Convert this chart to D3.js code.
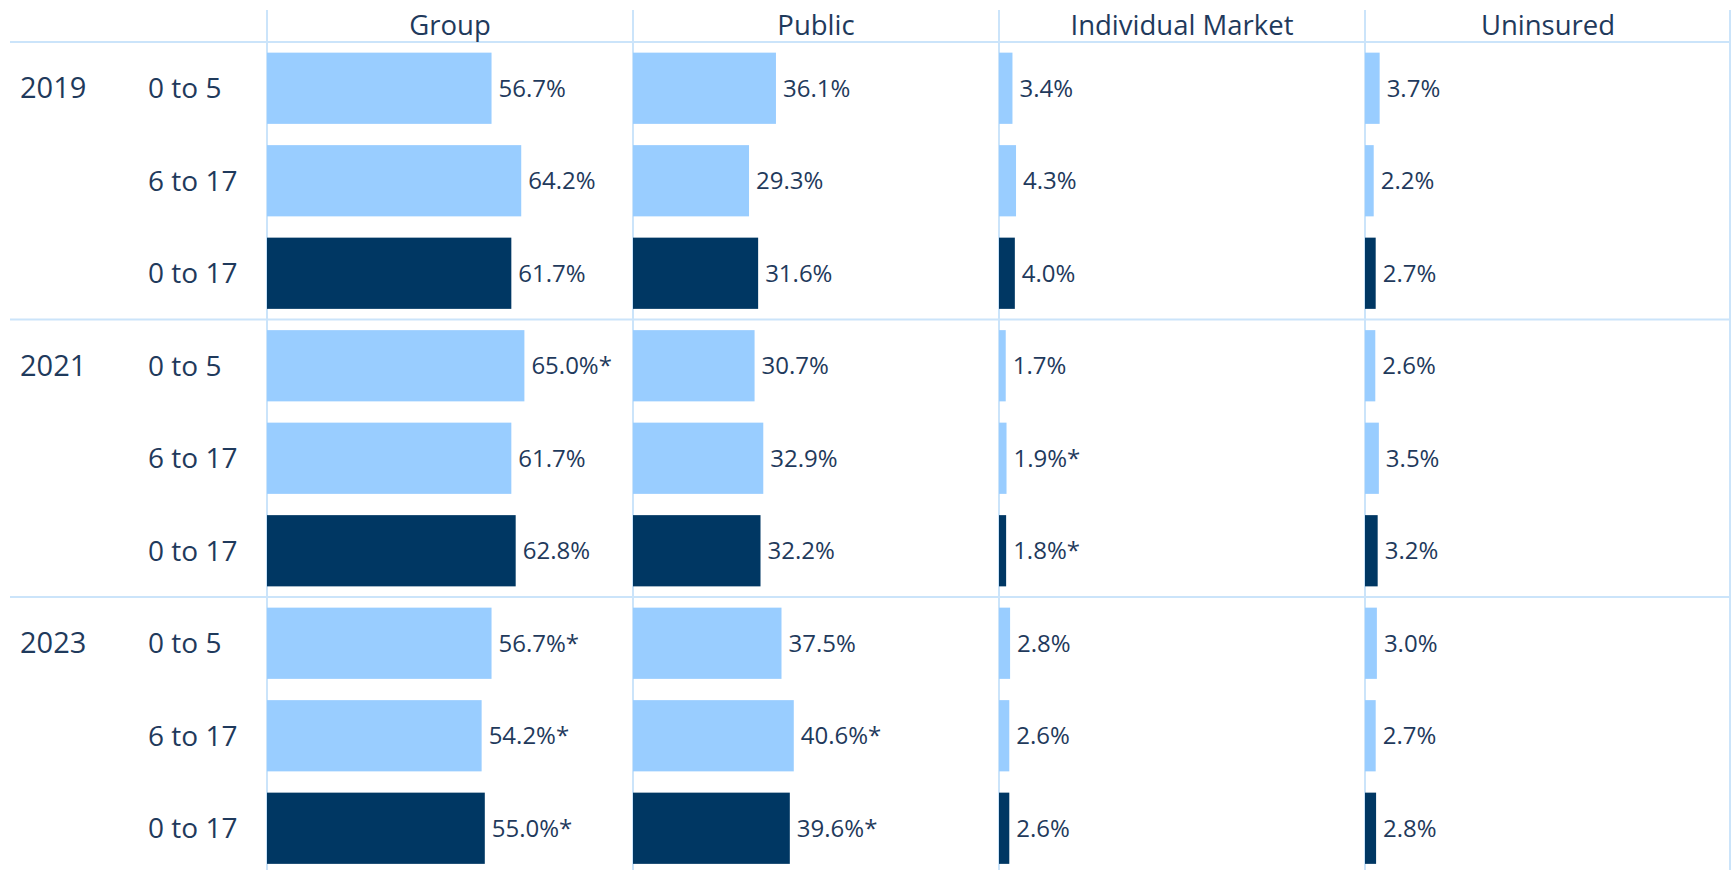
<!DOCTYPE html>
<html>
<head>
<meta charset="utf-8">
<script src="https://cdn.jsdelivr.net/npm/d3@7"></script>
<style>
    body { margin: 0; background: #ffffff; }
    svg { display: block; }
    text { font-family: "Open Sans", "Noto Sans", sans-serif; fill: #1f3a5c; }
</style>
</head>
<body>
<svg id="chart" width="1731" height="870"></svg>
<script>
// data
const years = ["2019", "2021", "2023"];
const ages = ["0 to 5", "6 to 17", "0 to 17"];
const coverage = ["Group", "Public", "Individual Market", "Uninsured"];

// one value per row: 2019 (0-5, 6-17, 0-17), 2021 (...), 2023 (...)
const groupVals = [56.7, 64.2, 61.7, 65.0, 61.7, 62.8, 56.7, 54.2, 55.0];
const publicVals = [36.1, 29.3, 31.6, 30.7, 32.9, 32.2, 37.5, 40.6, 39.6];
const individualVals = [3.4, 4.3, 4.0, 1.7, 1.9, 1.8, 2.8, 2.6, 2.6];
const uninsuredVals = [3.7, 2.2, 2.7, 2.6, 3.5, 3.2, 3.0, 2.7, 2.8];

// statistically significant change marked with *
const groupStars = [false, false, false, true, false, false, true, true, true];
const publicStars = [false, false, false, false, false, false, false, true, true];
const individualStars = [false, false, false, false, true, true, false, false, false];
const uninsuredStars = [false, false, false, false, false, false, false, false, false];

const seriesVals = [groupVals, publicVals, individualVals, uninsuredVals];
const seriesStars = [groupStars, publicStars, individualStars, uninsuredStars];

const LIGHT = "#99cdff";
const DARK = "#003763";
const GRID = "#cbe4fa";

const rows = [];
years.forEach((yr, yi) => {
    ages.forEach((age, ai) => {
        rows.push({key: yr + "|" + age, year: yr, age: age, yi: yi, ai: ai});
    });
});

const cells = [];
coverage.forEach((cov, ci) => {
    rows.forEach((r, ri) => {
        cells.push({cov: cov, row: r.key, total: r.ai == 2,
                    value: seriesVals[ci][ri], star: seriesStars[ci][ri]});
    });
});

const svg = d3.select("#chart");

const y = d3.scaleBand()
            .domain(rows.map((d) => d.key))
            .range([42, 874.5])
            .paddingInner(0.23)
            .paddingOuter(0.115);

const col = d3.scaleBand()
              .domain(coverage)
              .range([267, 1731]);

const x = d3.scaleLinear()
            .domain([0, 100])
            .range([0, 396]);

// grid lines
const grid = svg.append("g").attr("class", "grid");
grid.selectAll("line.v")
    .data(coverage)
    .join("line")
    .attr("class", "v")
    .attr("x1", (d) => col(d))
    .attr("x2", (d) => col(d))
    .attr("y1", 10)
    .attr("y2", 870)
    .style("stroke", GRID)
    .style("stroke-width", 2);
grid.append("line")
    .attr("x1", 1730).attr("x2", 1730)
    .attr("y1", 10).attr("y2", 870)
    .style("stroke", GRID)
    .style("stroke-width", 2);

const blockTops = years.map((yr) => y(yr + "|" + ages[0]) - y.step() * y.paddingOuter());
grid.selectAll("line.h")
    .data(blockTops)
    .join("line")
    .attr("class", "h")
    .attr("x1", 10)
    .attr("x2", 1731)
    .attr("y1", (d) => d)
    .attr("y2", (d) => d)
    .style("stroke", GRID)
    .style("stroke-width", 2);

// column headers
svg.append("g")
   .selectAll("text")
   .data(coverage)
   .join("text")
   .attr("x", (d) => col(d) + col.bandwidth() / 2)
   .attr("y", 25)
   .attr("dy", "0.35em")
   .style("text-anchor", "middle")
   .style("font-size", "27.5px")
   .text((d) => d);

// year labels
svg.append("g")
   .selectAll("text")
   .data(rows.filter((d) => d.ai == 0))
   .join("text")
   .attr("x", 20)
   .attr("y", (d) => y(d.key) + y.bandwidth() / 2)
   .attr("dy", "0.35em")
   .style("font-size", "29px")
   .text((d) => d.year);

// age labels
svg.append("g")
   .selectAll("text")
   .data(rows)
   .join("text")
   .attr("x", 148)
   .attr("y", (d) => y(d.key) + y.bandwidth() / 2)
   .attr("dy", "0.35em")
   .style("font-size", "28px")
   .text((d) => d.age);

// bars
svg.append("g")
   .selectAll("rect")
   .data(cells)
   .join("rect")
   .attr("x", (d) => col(d.cov))
   .attr("y", (d) => y(d.row))
   .attr("width", (d) => x(d.value))
   .attr("height", y.bandwidth())
   .style("fill", (d) => d.total ? DARK : LIGHT);

// value labels
svg.append("g")
   .selectAll("text")
   .data(cells)
   .join("text")
   .attr("x", (d) => col(d.cov) + x(d.value) + 7)
   .attr("y", (d) => y(d.row) + y.bandwidth() / 2)
   .attr("dy", "0.35em")
   .style("font-size", "24px")
   .text((d) => d.value.toFixed(1) + "%" + (d.star ? "*" : ""));
</script>
</body>
</html>
